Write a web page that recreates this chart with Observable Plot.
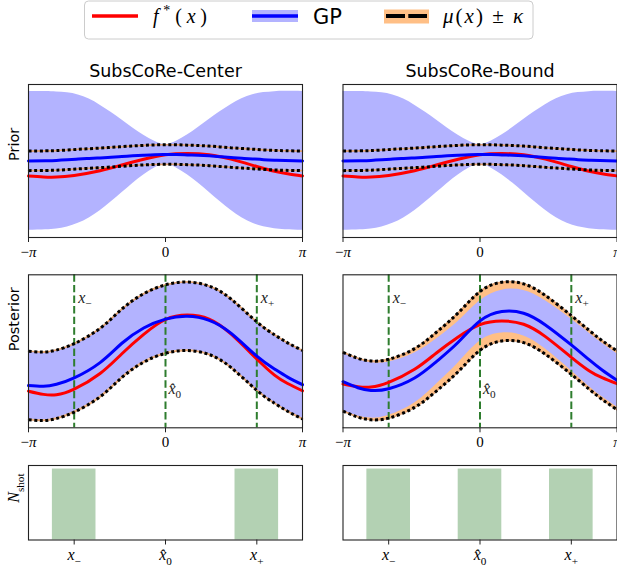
<!DOCTYPE html>
<html><head><meta charset="utf-8">
<script src="https://cdn.jsdelivr.net/npm/d3@7"></script>
<script src="https://cdn.jsdelivr.net/npm/@observablehq/plot@0.6"></script>
<style>
body{margin:0;background:#fff;}
#fig{position:relative;width:617px;height:571px;overflow:hidden;background:#fff;}
#fig svg{position:absolute;left:0;top:0;max-width:none;background:transparent;overflow:visible;}
</style></head><body><div id="fig"></div>
<script>
const PI = Math.PI;

// ---------- data ----------
const titles = ["SubsCoRe-Center", "SubsCoRe-Bound"];
const rowLabels = ["Prior", "Posterior", "N_shot"];
const legendLabels = ["f*(x)", "GP", "μ(x) ± κ"];

const xTickValues = [-PI, 0, PI];
const xTickLabels = ["−π", "0", "π"];

// prior (identical in both columns)
const xPrior = [-PI, -2.75, -2.5, -2.25, -2, -1.75, -1.5, -1.25, -1, -0.75, -0.5, -0.25, 0, 0.25, 0.5, 0.75, 1, 1.25, 1.5, 1.75, 2, 2.25, 2.5, 2.75, PI];
const priorMu = [0.38, 0.40, 0.42, 0.47, 0.53, 0.58, 0.63, 0.69, 0.75, 0.81, 0.86, 0.90, 0.91, 0.91, 0.88, 0.85, 0.80, 0.73, 0.66, 0.60, 0.54, 0.48, 0.44, 0.41, 0.38];
const priorSigma = [5.82, 5.80, 5.74, 5.62, 5.38, 4.98, 4.42, 3.76, 3.05, 2.32, 1.66, 1.12, 0.84, 1.12, 1.66, 2.32, 3.05, 3.76, 4.42, 4.98, 5.38, 5.62, 5.74, 5.80, 5.82];
const priorKappa = 0.82;

// posterior grid and true function
const xPost = [-PI, -2.8, -2.5, -2.094, -1.5, -1, -0.5, 0, 0.5, 1, 1.5, 2.094, 2.5, 2.8, PI];
const fStar = [-0.89, -0.97, -0.98, -0.84, -0.45, 0.04, 0.52, 0.89, 1.00, 0.90, 0.53, -0.09, -0.49, -0.70, -0.88];

// SubsCoRe-Center posterior
const centerMu = [-0.75, -0.77, -0.72, -0.56, -0.18, 0.30, 0.68, 0.90, 0.97, 0.87, 0.55, -0.02, -0.34, -0.54, -0.73];
const centerSigma = [0.83, 0.83, 0.83, 0.83, 0.83, 0.83, 0.83, 0.83, 0.83, 0.83, 0.83, 0.83, 0.83, 0.83, 0.83];
const centerKappa = 0.85;

// SubsCoRe-Bound posterior
const boundMu = [-0.82, -1.0, -1.08, -1.03, -0.71, -0.22, 0.36, 1.0, 1.28, 1.23, 0.88, 0.28, -0.16, -0.47, -0.78];
const boundSigma = [0.86, 0.85, 0.83, 0.80, 0.75, 0.68, 0.62, 0.60, 0.64, 0.68, 0.72, 0.77, 0.80, 0.80, 0.80];
const boundKappa = 0.88;

// measurement points and shot allocation
const shotPositions = [-2.094, 0, 2.094];
const shotLabels = ["x₋", "x\u0302\u2080", "x₊"];
const centerShots = [1, 0, 1];
const boundShots = [1, 1, 1];
const barWidth = 1.0;

// y ranges of the panels
const priorDomain = [-6.04, 6.78];
const centerDomain = [-1.8, 2.0];
const boundDomain = [-2.2, 2.38];
const shotDomain = [0, 1.05];

// ---------- style / layout ----------
const SERIF = "Liberation Serif, DejaVu Serif, serif";
const SANS = "DejaVu Sans, sans-serif";
const H = 571;
const C = {band:"#b3b3ff", orange:"#ffbf86", orangeEdge:"#e3a26f", green:"#2e7d2e", bar:"#b3d1b3", red:"#ff0000", blue:"#0000ff"};
const COLS = [{svgW:617, x0:28, x1:302}, {svgW:620, x0:342.5, x1:616.5}];
const ROWS = {prior:{y0:84, y1:237}, post:{y0:274.3, y1:427.3}, shots:{y0:465, y1:539.5}};

const MATH = {
  "−π": [["−",""],["π","i"]],
  "π": [["π","i"]],
  "x₋": [["x","i"],["−","s"]],
  "x₊": [["x","i"],["+","s"]],
  "x\u0302\u2080": [["x\u0302","i"],["0","s"]],
  "N_shot": [["N","i"],["shot","s"]],
  "f*(x)": [["f","i"],["*","p"],["(",""],["x","i"],[")",""]],
  "μ(x) ± κ": [["μ","i"],["(",""],["x","i"],[")",""],[" ± ",""],["κ","i"]]
};
function setMath(t, parts, fs) {
  while (t.firstChild) t.removeChild(t.firstChild);
  let cur = 0;
  for (const [s, k] of parts) {
    const ts = document.createElementNS("http://www.w3.org/2000/svg", "tspan");
    ts.textContent = s;
    let shift = 0;
    if (k.includes("i")) ts.setAttribute("font-style", "italic");
    else ts.setAttribute("font-style", "normal");
    if (k.includes("s")) { shift = 0.28 * fs; ts.setAttribute("font-size", (0.7 * fs).toFixed(2)); }
    if (k.includes("p")) { shift = -0.38 * fs; ts.setAttribute("font-size", (0.7 * fs).toFixed(2)); }
    if (shift !== cur) ts.setAttribute("dy", (shift - cur).toFixed(2));
    cur = shift;
    t.appendChild(ts);
  }
}
function applyMath(root) {
  root.querySelectorAll("text").forEach(t => {
    const parts = MATH[t.textContent];
    if (!parts) return;
    const fs = parseFloat(getComputedStyle(t).fontSize) || 15;
    setMath(t, parts, fs);
  });
}

const fig = document.getElementById("fig");

function place(col, row, yDomain, marks) {
  const svg = Plot.plot({
    width: col.svgW, height: H,
    marginLeft: col.x0, marginRight: col.svgW - col.x1,
    marginTop: row.y0, marginBottom: H - row.y1,
    x: {domain: [-PI, PI], label: null},
    y: {domain: yDomain, axis: null, label: null},
    marks: marks.filter(m => m != null)
  });
  svg.style.background = "transparent";
  svg.style.maxWidth = "none";
  fig.appendChild(svg);
  applyMath(svg);
}

function axisMarks(values, labels, fs) {
  return Plot.axisX(values, {
    tickSize: 5, tickPadding: 4, label: null,
    tickFormat: d => labels[values.indexOf(d)],
    fontSize: fs, fontFamily: SERIF, stroke: "#222"
  });
}

function gpMarks(xs, mu, sigma, kappa, withShots) {
  const d = xs.map((x, i) => ({x, mu: mu[i], lo: mu[i] - sigma[i], hi: mu[i] + sigma[i], klo: mu[i] - kappa, khi: mu[i] + kappa}));
  const f = xPost.map((x, i) => ({x, y: fStar[i]}));
  const c = "natural";
  const dots = {stroke: "#000", strokeWidth: 3, strokeDasharray: "3,2.6", strokeLinecap: "butt", strokeLinejoin: "miter", curve: c};
  return [
    Plot.areaY(d, {x: "x", y1: "klo", y2: "khi", fill: C.orange, curve: c}),
    Plot.areaY(d, {x: "x", y1: "lo", y2: "hi", fill: C.band, curve: c}),
    Plot.lineY(d, {x: "x", y: "khi", stroke: C.orangeEdge, strokeWidth: 1.6, curve: c}),
    Plot.lineY(d, {x: "x", y: "klo", stroke: C.orangeEdge, strokeWidth: 1.6, curve: c}),
    withShots ? Plot.ruleX(shotPositions, {stroke: C.green, strokeWidth: 2, strokeDasharray: "7.4,3.2", strokeLinecap: "butt"}) : null,
    Plot.lineY(f, {x: "x", y: "y", stroke: C.red, strokeWidth: 3, curve: c}),
    Plot.lineY(d, {x: "x", y: "mu", stroke: C.blue, strokeWidth: 3, curve: c}),
    Plot.lineY(d, {x: "x", y: "khi", ...dots}),
    Plot.lineY(d, {x: "x", y: "klo", ...dots})
  ];
}

function annotations() {
  const top = [{x: shotPositions[0], label: shotLabels[0]}, {x: shotPositions[2], label: shotLabels[2]}];
  const mid = [{x: shotPositions[1], label: shotLabels[1]}];
  const common = {x: "x", text: "label", textAnchor: "start", dx: 4, fontSize: 16, fontFamily: SERIF, fill: "#222", lineAnchor: "middle", frameAnchor: "top"};
  return [
    Plot.text(top, {...common, dy: 23}),
    Plot.text(mid, {...common, dx: 3, dy: 114})
  ];
}

function rowLabel(label, serif) {
  return Plot.text([label], {text: d => d, frameAnchor: "left", dx: -14.3, rotate: -90, fontSize: serif ? 16 : 14.5, fontFamily: serif ? SERIF : SANS, fill: "#000"});
}
function titleMark(t) {
  return Plot.text([t], {text: d => d, frameAnchor: "top", dy: -8, lineAnchor: "bottom", fontSize: 17.5, fontFamily: SANS, fill: "#000"});
}
const frame = () => Plot.frame({stroke: "#222", strokeWidth: 1.1});

// ---------- Prior row ----------
COLS.forEach((col, ci) => {
  place(col, ROWS.prior, priorDomain, [
    ...gpMarks(xPrior, priorMu, priorSigma, priorKappa, false),
    frame(),
    axisMarks(xTickValues, xTickLabels, 15),
    titleMark(titles[ci]),
    ci === 0 ? rowLabel(rowLabels[0]) : null
  ]);
});

// ---------- Posterior row ----------
[[centerMu, centerSigma, centerKappa, centerDomain], [boundMu, boundSigma, boundKappa, boundDomain]].forEach(([mu, sg, k, dom], ci) => {
  place(COLS[ci], ROWS.post, dom, [
    ...gpMarks(xPost, mu, sg, k, true),
    ...annotations(),
    frame(),
    axisMarks(xTickValues, xTickLabels, 15),
    ci === 0 ? rowLabel(rowLabels[1]) : null
  ]);
});

// ---------- Shots row ----------
[centerShots, boundShots].forEach((counts, ci) => {
  const bars = shotPositions.map((x, i) => ({x, n: counts[i]}));
  place(COLS[ci], ROWS.shots, shotDomain, [
    Plot.rect(bars, {x1: d => d.x - barWidth / 2, x2: d => d.x + barWidth / 2, y1: 0, y2: "n", fill: C.bar}),
    frame(),
    axisMarks(shotPositions, shotLabels, 16),
    ci === 0 ? rowLabel(rowLabels[2], true) : null
  ]);
});

// ---------- Legend ----------
(function legend() {
  const svg = d3.select(fig).append("svg").attr("width", 617).attr("height", 45);
  svg.append("rect").attr("x", 84.5).attr("y", 1).attr("width", 448.5).attr("height", 38).attr("rx", 4)
    .attr("fill", "#fff").attr("stroke", "#cccccc").attr("stroke-width", 1);
  svg.append("line").attr("x1", 92).attr("x2", 138).attr("y1", 16).attr("y2", 16).attr("stroke", C.red).attr("stroke-width", 3.5);
  svg.append("rect").attr("x", 252).attr("y", 10).attr("width", 46).attr("height", 12).attr("fill", C.band);
  svg.append("line").attr("x1", 252).attr("x2", 298).attr("y1", 16).attr("y2", 16).attr("stroke", C.blue).attr("stroke-width", 3.5);
  svg.append("rect").attr("x", 384).attr("y", 9.5).attr("width", 45).attr("height", 14).attr("fill", C.orange);
  svg.append("line").attr("x1", 386).attr("x2", 427).attr("y1", 16).attr("y2", 16).attr("stroke", "#000").attr("stroke-width", 4).attr("stroke-dasharray", "19,3.3");
  const t1 = svg.append("text").attr("x", 153).attr("y", 23).attr("font-family", SERIF).attr("font-size", 20)
    .attr("textLength", 54).attr("lengthAdjust", "spacing").text(legendLabels[0]);
  svg.append("text").attr("x", 313).attr("y", 23.7).attr("font-family", SANS).attr("font-size", 21).text(legendLabels[1]);
  const t3 = svg.append("text").attr("x", 443).attr("y", 23).attr("font-family", SERIF).attr("font-size", 21)
    .attr("textLength", 80).attr("lengthAdjust", "spacing").text(legendLabels[2]);
  setMath(t1.node(), MATH[legendLabels[0]], 20);
  setMath(t3.node(), MATH[legendLabels[2]], 21);
})();
</script>
</body></html>
